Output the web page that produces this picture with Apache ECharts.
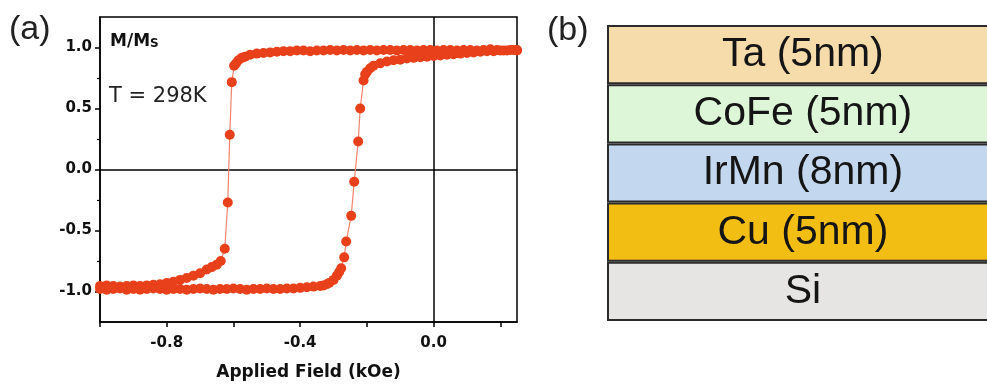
<!doctype html>
<html lang="en">
<head>
    <meta charset="utf-8">
    <title>hysteresis</title>
    <script src="https://cdn.jsdelivr.net/npm/echarts@6/dist/echarts.min.js"></script>
    <style>
        html, body { margin: 0; padding: 0; background: #fff; }
        #main { width: 987px; height: 389px; }
    </style>
</head>
<body>
<div id="main"></div>
<script>
    // (a) descending branch: field swept from +0.25 down to -1.0 kOe
    const descField = [0.25, 0.23, 0.21, 0.19, 0.17, 0.15, 0.13, 0.11, 0.09, 0.07, 0.05, 0.03, 0.01, -0.01, -0.03,
        -0.05, -0.07, -0.09, -0.11, -0.13, -0.15, -0.17, -0.19, -0.21, -0.23, -0.25, -0.27, -0.29, -0.31, -0.33,
        -0.35, -0.37, -0.39, -0.41, -0.43, -0.45, -0.47, -0.49, -0.51, -0.53, -0.55, -0.565, -0.575, -0.585,
        -0.592, -0.598, -0.605, -0.611, -0.617, -0.626, -0.638, -0.65, -0.665, -0.68, -0.70, -0.72, -0.74,
        -0.76, -0.78, -0.80, -0.82, -0.84, -0.86, -0.88, -0.90, -0.92, -0.94, -0.96, -0.98, -1.00];
    const descM = [0.975, 0.98, 0.975, 0.98, 0.985, 0.98, 0.975, 0.98, 0.98, 0.975, 0.98, 0.98, 0.975, 0.98, 0.98,
        0.975, 0.98, 0.98, 0.975, 0.98, 0.98, 0.975, 0.98, 0.975, 0.98, 0.975, 0.98, 0.975, 0.98, 0.975,
        0.975, 0.97, 0.975, 0.975, 0.97, 0.97, 0.965, 0.96, 0.955, 0.95, 0.94, 0.925, 0.915, 0.895,
        0.87, 0.85, 0.716, 0.285, -0.27, -0.65, -0.75, -0.78, -0.80, -0.82, -0.85, -0.87, -0.89,
        -0.905, -0.92, -0.93, -0.94, -0.945, -0.95, -0.955, -0.95, -0.955, -0.96, -0.955, -0.95, -0.955];

    // (a) ascending branch: field swept from -1.0 up to +0.25 kOe
    const ascField = [-1.00, -0.98, -0.96, -0.94, -0.92, -0.90, -0.88, -0.86, -0.84, -0.82, -0.80, -0.78, -0.76,
        -0.74, -0.72, -0.70, -0.68, -0.66, -0.64, -0.62, -0.60, -0.58, -0.56, -0.54, -0.52, -0.50, -0.48,
        -0.46, -0.44, -0.42, -0.40, -0.38, -0.36, -0.34, -0.33, -0.32, -0.313, -0.30, -0.29, -0.283, -0.277,
        -0.268, -0.262, -0.247, -0.238, -0.226, -0.22, -0.21, -0.205, -0.20, -0.19, -0.18, -0.16, -0.14,
        -0.12, -0.10, -0.08, -0.06, -0.04, -0.02, 0.00, 0.02, 0.04, 0.06, 0.08, 0.10, 0.12, 0.14, 0.16,
        0.18, 0.20, 0.22, 0.24, 0.25];
    const ascM = [-0.98, -0.985, -0.98, -0.975, -0.985, -0.98, -0.985, -0.98, -0.975, -0.98, -0.985, -0.98, -0.98,
        -0.985, -0.98, -0.975, -0.98, -0.985, -0.98, -0.98, -0.975, -0.98, -0.985, -0.98, -0.98, -0.975, -0.98,
        -0.98, -0.975, -0.975, -0.97, -0.965, -0.96, -0.955, -0.95, -0.94, -0.93, -0.905, -0.87, -0.84, -0.81,
        -0.72, -0.59, -0.38, -0.10, 0.23, 0.50, 0.73, 0.78, 0.80, 0.83, 0.85, 0.87, 0.885,
        0.895, 0.90, 0.91, 0.915, 0.92, 0.925, 0.93, 0.935, 0.94, 0.945, 0.95, 0.955, 0.96, 0.965, 0.97,
        0.97, 0.975, 0.975, 0.98, 0.98];

    // tick values / labels for (a)
    const xTicks = [-1.0, -0.8, -0.6, -0.4, -0.2, 0.0, 0.2];
    const xLabels = [-0.8, -0.4, 0.0];
    const yLabels = [-1.0, -0.5, 0.0, 0.5, 1.0];
    const yMinorTicks = [-0.75, -0.25, 0.25, 0.75];

    // (b) layer stack, bottom to top
    const layers = ['Si', 'Cu (5nm)', 'IrMn (8nm)', 'CoFe (5nm)', 'Ta (5nm)'];
    const layerThickness = [1, 1, 1, 1, 1];
    const layerColors = ['#e6e5e3', '#f3be14', '#c3d7ee', '#def6d8', '#f6dcab'];

    const toPairs = (xs, ys) => xs.map((x, i) => [x, ys[i]]);

    const dotColor = '#e8401a';
    const lineColor = '#f4836a';
    const boldFont = 'DejaVu Sans';

    const myChart = echarts.init(document.getElementById('main'));

    const option = {
        animation: false,
        backgroundColor: '#fff',
        grid: [
            {
                left: 100, right: 470, top: 17, bottom: 67,
                show: true, borderColor: '#000', borderWidth: 1.5
            },
            {
                left: 607, right: 0, top: 25, bottom: 68
            }
        ],
        xAxis: [
            {
                type: 'value', gridIndex: 0, min: -1.0, max: 0.25,
                name: 'Applied Field (kOe)', nameLocation: 'middle', nameGap: 42,
                nameTextStyle: {fontFamily: boldFont, fontWeight: 'bold', fontSize: 17, color: '#111'},
                axisLine: {show: true, onZero: false, lineStyle: {color: '#000', width: 1.5}},
                axisTick: {show: true, length: 5, customValues: xTicks, lineStyle: {color: '#000', width: 1.5}},
                axisLabel: {
                    customValues: xLabels, margin: 14,
                    fontFamily: boldFont, fontWeight: 'bold', fontSize: 15, color: '#111',
                    formatter: v => v.toFixed(1)
                },
                splitLine: {show: false}
            },
            {
                // bars run past the right edge, as the stack is cut off there
                type: 'value', gridIndex: 1, min: 0, max: 0.97, show: false
            }
        ],
        yAxis: [
            {
                type: 'value', gridIndex: 0, min: -1.25, max: 1.25,
                axisLine: {show: true, onZero: false, lineStyle: {color: '#000', width: 1.5}},
                axisTick: {show: true, length: 5, customValues: yLabels, lineStyle: {color: '#000', width: 1.5}},
                axisLabel: {
                    customValues: yLabels, margin: 8,
                    fontFamily: boldFont, fontWeight: 'bold', fontSize: 15, color: '#111',
                    formatter: v => v.toFixed(1)
                },
                splitLine: {show: false}
            },
            {
                // short minor ticks between the labelled ones
                type: 'value', gridIndex: 0, min: -1.25, max: 1.25, position: 'left',
                axisLine: {show: false, onZero: false},
                axisTick: {show: true, length: 3, customValues: yMinorTicks, lineStyle: {color: '#000', width: 1.2}},
                axisLabel: {show: false},
                splitLine: {show: false}
            },
            {
                type: 'category', gridIndex: 1, data: layers, show: false
            }
        ],
        series: [
            {
                type: 'line', xAxisIndex: 0, yAxisIndex: 0,
                data: toPairs(descField, descM),
                symbol: 'circle', symbolSize: 10, showSymbol: true, z: 3,
                itemStyle: {color: dotColor},
                lineStyle: {color: lineColor, width: 1.2},
                markLine: {
                    silent: true, symbol: ['none', 'none'], z: 1,
                    label: {show: false},
                    lineStyle: {color: '#000', width: 1.5, type: 'solid'},
                    data: [{xAxis: 0}, {yAxis: 0}]
                }
            },
            {
                type: 'line', xAxisIndex: 0, yAxisIndex: 0,
                data: toPairs(ascField, ascM),
                symbol: 'circle', symbolSize: 10, showSymbol: true, z: 3,
                itemStyle: {color: dotColor},
                lineStyle: {color: lineColor, width: 1.2}
            },
            {
                type: 'bar', xAxisIndex: 1, yAxisIndex: 2,
                barCategoryGap: '0%', clip: false,
                data: layerThickness.map((v, i) => ({value: v, itemStyle: {color: layerColors[i]}})),
                itemStyle: {borderColor: '#2b2b2b', borderWidth: 2},
                label: {
                    show: true, position: 'inside', formatter: '{b}',
                    fontFamily: 'Liberation Sans', fontSize: 41, color: '#151515'
                }
            }
        ],
        graphic: [
            {
                type: 'text', left: 9, top: 13,
                style: {text: '(a)', fontFamily: 'Liberation Sans', fontSize: 34, fill: '#222'}
            },
            {
                type: 'text', left: 547, top: 14,
                style: {text: '(b)', fontFamily: 'Liberation Sans', fontSize: 34, fill: '#222'}
            },
            {
                type: 'text', left: 110, top: 33,
                style: {
                    text: '{m|M/M}{s|S}',
                    rich: {
                        m: {fontFamily: boldFont, fontWeight: 'bold', fontSize: 17, fill: '#111', verticalAlign: 'bottom'},
                        s: {fontFamily: boldFont, fontWeight: 'bold', fontSize: 12, fill: '#111', padding: [6, 0, 0, 0]}
                    }
                }
            },
            {
                type: 'text', left: 109, top: 86,
                style: {text: 'T = 298K', fontFamily: 'DejaVu Sans', fontSize: 21, fill: '#222'}
            }
        ]
    };

    myChart.setOption(option);
</script>
</body>
</html>
